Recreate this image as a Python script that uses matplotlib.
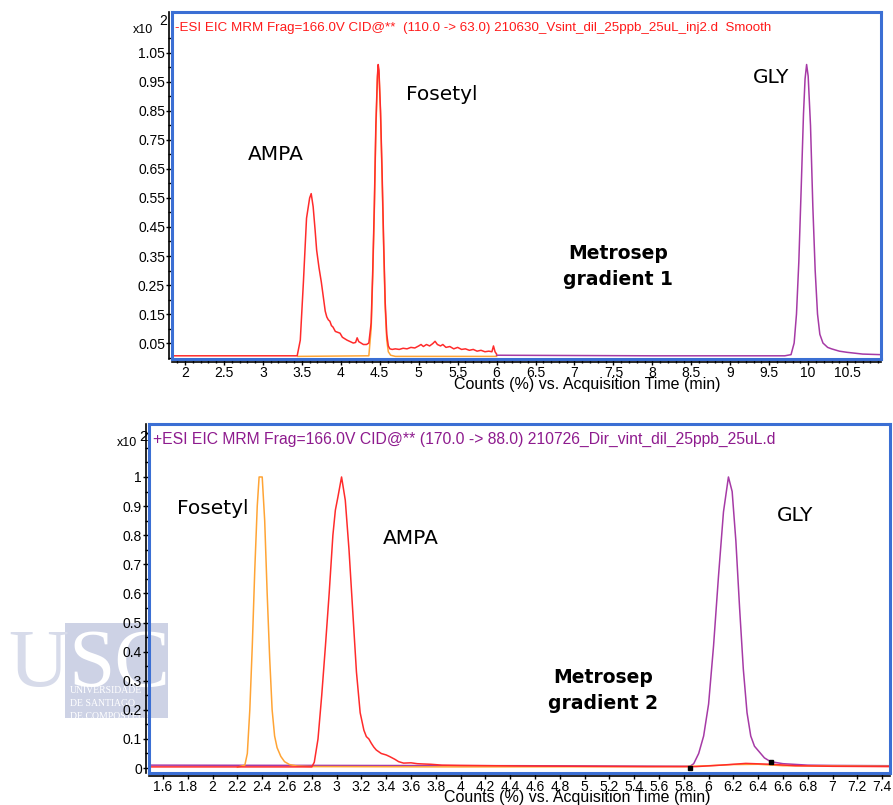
import numpy as np
import matplotlib
matplotlib.use("Agg")
import matplotlib.pyplot as plt
from matplotlib.ticker import MultipleLocator, FixedLocator, FormatStrFormatter
from matplotlib.patches import Rectangle
from matplotlib.lines import Line2D
from matplotlib.transforms import offset_copy

# ---- gradient 1 (top panel) ----
top_red_t = [1.83, 3.44, 3.48, 3.52, 3.56, 3.60, 3.62, 3.645, 3.67, 3.69, 3.72, 3.75, 3.78, 3.80,
             3.82, 3.84, 3.86, 3.88, 3.90, 3.93, 3.96, 3.99, 4.02, 4.05, 4.08, 4.12, 4.16, 4.19,
             4.21, 4.23, 4.26, 4.29, 4.33, 4.36, 4.39, 4.41, 4.43, 4.45, 4.47, 4.48, 4.49, 4.51,
             4.53, 4.55, 4.57, 4.59, 4.61, 4.63, 4.66, 4.70, 4.75, 4.80, 4.85, 4.90, 4.95, 5.00,
             5.03, 5.06, 5.10, 5.14, 5.18, 5.21, 5.24, 5.28, 5.31, 5.35, 5.40, 5.45, 5.50, 5.55,
             5.60, 5.65, 5.70, 5.75, 5.80, 5.85, 5.90, 5.94, 5.96, 5.98, 6.00]
top_red_y = [0.006, 0.006, 0.06, 0.26, 0.48, 0.55, 0.565, 0.52, 0.44, 0.37, 0.31, 0.26, 0.20, 0.16,
             0.14, 0.13, 0.125, 0.11, 0.105, 0.09, 0.087, 0.084, 0.07, 0.065, 0.06, 0.055, 0.05, 0.052,
             0.068, 0.055, 0.05, 0.045, 0.045, 0.05, 0.12, 0.30, 0.52, 0.80, 0.97, 1.01, 0.99, 0.85,
             0.64, 0.40, 0.19, 0.08, 0.04, 0.03, 0.028, 0.03, 0.028, 0.032, 0.03, 0.035, 0.033, 0.04,
             0.045, 0.038, 0.045, 0.04, 0.048, 0.056, 0.045, 0.04, 0.045, 0.035, 0.038, 0.03, 0.035, 0.028,
             0.03, 0.025, 0.028, 0.022, 0.025, 0.02, 0.022, 0.02, 0.04, 0.02, 0.012]

top_orange_t = [3.45, 4.36, 4.39, 4.41, 4.43, 4.45, 4.47, 4.48, 4.49, 4.51, 4.53, 4.55, 4.57, 4.59,
                4.61, 4.64, 4.70, 6.00]
top_orange_y = [0.004, 0.006, 0.10, 0.28, 0.50, 0.78, 0.96, 1.00, 0.98, 0.84, 0.62, 0.38, 0.17, 0.06,
                0.02, 0.008, 0.004, 0.004]

top_purple_t = [6.00, 7.00, 8.00, 9.00, 9.70, 9.78, 9.82, 9.85, 9.88, 9.91, 9.94, 9.96, 9.98, 10.00,
                10.03, 10.06, 10.09, 10.12, 10.15, 10.19, 10.25, 10.30, 10.40, 10.50, 10.70, 10.93]
top_purple_y = [0.008, 0.007, 0.006, 0.006, 0.006, 0.01, 0.05, 0.15, 0.33, 0.58, 0.84, 0.96, 1.01, 0.97,
                0.80, 0.52, 0.30, 0.15, 0.08, 0.05, 0.035, 0.03, 0.022, 0.018, 0.012, 0.01]

# ---- gradient 2 (bottom panel) ----
bot_purple_t = [1.49, 3.00, 4.50, 5.85, 5.88, 5.92, 5.96, 6.00, 6.04, 6.08, 6.12, 6.16, 6.19, 6.22,
                6.25, 6.28, 6.31, 6.34, 6.37, 6.41, 6.45, 6.50, 6.60, 6.80, 7.00, 7.46]
bot_purple_y = [0.01, 0.009, 0.008, 0.006, 0.015, 0.05, 0.11, 0.22, 0.42, 0.66, 0.88, 1.0, 0.95, 0.78,
                0.55, 0.34, 0.19, 0.11, 0.075, 0.055, 0.035, 0.022, 0.015, 0.01, 0.009, 0.008]

bot_orange_t = [2.20, 2.26, 2.28, 2.30, 2.32, 2.34, 2.36, 2.375, 2.40, 2.42, 2.44, 2.46, 2.48, 2.50,
                2.52, 2.55, 2.58, 2.62, 2.68, 2.80, 4.00, 5.80, 6.00, 6.20, 6.40, 6.60, 7.46]
bot_orange_y = [0.003, 0.01, 0.05, 0.20, 0.42, 0.68, 0.90, 1.0, 1.0, 0.85, 0.60, 0.38, 0.20, 0.11,
                0.07, 0.04, 0.022, 0.012, 0.007, 0.005, 0.004, 0.005, 0.008, 0.012, 0.013, 0.008, 0.006]

bot_red_t = [1.49, 2.80, 2.82, 2.85, 2.88, 2.91, 2.94, 2.97, 2.99, 3.01, 3.04, 3.07, 3.10, 3.13, 3.16,
             3.19, 3.22, 3.24, 3.26, 3.28, 3.30, 3.32, 3.36, 3.40, 3.43, 3.47, 3.50, 3.54, 3.60, 3.65,
             3.70, 3.76, 3.85, 4.00, 4.50, 5.00, 5.50, 5.90, 6.10, 6.30, 6.50, 6.70, 7.00, 7.46]
bot_red_y = [0.004, 0.004, 0.02, 0.10, 0.25, 0.42, 0.60, 0.80, 0.886, 0.93, 1.0, 0.92, 0.75, 0.54, 0.33,
             0.19, 0.13, 0.108, 0.10, 0.085, 0.072, 0.062, 0.05, 0.045, 0.039, 0.03, 0.022, 0.017, 0.018, 0.015,
             0.014, 0.013, 0.01, 0.009, 0.007, 0.006, 0.005, 0.005, 0.01, 0.016, 0.013, 0.008, 0.006, 0.005]

bot_marker_t = [5.85, 6.50]
bot_marker_y = [0.0, 0.022]

top_xticks = [2, 2.5, 3, 3.5, 4, 4.5, 5, 5.5, 6, 6.5, 7, 7.5, 8, 8.5, 9, 9.5, 10, 10.5]
top_yticks = [0.05, 0.15, 0.25, 0.35, 0.45, 0.55, 0.65, 0.75, 0.85, 0.95, 1.05]
bot_xticks = [1.6, 1.8, 2, 2.2, 2.4, 2.6, 2.8, 3, 3.2, 3.4, 3.6, 3.8, 4, 4.2, 4.4, 4.6, 4.8, 5,
              5.2, 5.4, 5.6, 5.8, 6, 6.2, 6.4, 6.6, 6.8, 7, 7.2, 7.4]
bot_yticks = [0, 0.1, 0.2, 0.3, 0.4, 0.5, 0.6, 0.7, 0.8, 0.9, 1]

RED = "#ff2b2b"
ORANGE = "#ffa435"
PURPLE = "#a63aa6"
FRAME = "#3b6fd4"
W, H = 893, 805

fig = plt.figure(figsize=(W / 100, H / 100), dpi=100)

# background layer in pixel coordinates (watermark + free texts)
bg = fig.add_axes([0, 0, 1, 1], zorder=-1)
bg.set_xlim(0, W)
bg.set_ylim(H, 0)
bg.axis("off")

bg.add_patch(Rectangle((65, 623), 103, 95, color="#cdd2e5", lw=0))
bg.text(8, 686, "U", fontsize=60, family="Liberation Serif", color="#d7dbea", va="baseline")
bg.text(68, 686, "SC", fontsize=60, family="Liberation Serif", color="white", va="baseline")
for yy, s in zip([690, 703, 716], ["UNIVERSIDADE", "DE SANTIAGO", "DE COMPOSTELA"]):
    bg.text(70, yy, s, fontsize=7, family="Liberation Serif", color="white", va="center")

bg.text(175, 28, "-ESI EIC MRM Frag=166.0V CID@**  (110.0 -> 63.0) 210630_Vsint_dil_25ppb_25uL_inj2.d  Smooth",
        fontsize=9.6, family="Liberation Sans", color="#ff1a1a", va="center")
bg.text(153, 439, "+ESI EIC MRM Frag=166.0V CID@** (170.0 -> 88.0) 210726_Dir_vint_dil_25ppb_25uL.d",
        fontsize=11.3, family="Liberation Sans", color="#8e1b8e", va="center")
bg.text(133, 30, "x10", fontsize=9, family="Liberation Sans", va="center")
bg.text(159, 21, "2", fontsize=10, family="Liberation Sans", va="center")
bg.text(117, 443, "x10", fontsize=9, family="Liberation Sans", va="center")
bg.text(139, 437, "2", fontsize=11, family="Liberation Sans", va="center")
bg.text(587, 384, "Counts (%) vs. Acquisition Time (min)", fontsize=11.5, family="Liberation Sans",
        ha="center", va="center")
bg.text(577, 797, "Counts (%) vs. Acquisition Time (min)", fontsize=11.5, family="Liberation Sans",
        ha="center", va="center")


def style_axes(ax):
    ax.set_facecolor("none")
    for sp in ax.spines.values():
        sp.set_color(FRAME)
        sp.set_linewidth(2.2)
    ax.tick_params(which="both", direction="out", color="black", width=1,
                   labelfontfamily="Liberation Sans", labelsize=10, pad=1)
    ax.tick_params(which="major", length=4)
    ax.tick_params(which="minor", length=3)
    # thin black axis lines just outside the blue frame
    tb = offset_copy(ax.transAxes, fig=fig, x=0, y=-3, units="dots")
    tl = offset_copy(ax.transAxes, fig=fig, x=-3, y=0, units="dots")
    ax.add_line(Line2D([0, 1], [0, 0], transform=tb, color="black", lw=1.2, clip_on=False))
    ax.add_line(Line2D([0, 0], [0, 1], transform=tl, color="black", lw=1.2, clip_on=False))


# ---- top panel ----
ax1 = fig.add_axes([172 / W, 1 - 359 / H, (881 - 172) / W, (359 - 12) / H])
ax1.plot(top_orange_t, top_orange_y, color=ORANGE, lw=1.1)
ax1.plot(top_purple_t, top_purple_y, color=PURPLE, lw=1.1)
ax1.plot(top_red_t, top_red_y, color=RED, lw=1.1)
ax1.set_xlim(1.833, 10.935)
ax1.set_ylim(-0.005, 1.191)
ax1.xaxis.set_major_locator(FixedLocator(top_xticks))
ax1.xaxis.set_major_formatter(FormatStrFormatter("%g"))
ax1.xaxis.set_minor_locator(MultipleLocator(0.1))
ax1.yaxis.set_major_locator(FixedLocator(top_yticks))
ax1.yaxis.set_major_formatter(FormatStrFormatter("%.2f"))
ax1.yaxis.set_minor_locator(MultipleLocator(0.1))
style_axes(ax1)

ax1.text(3.16, 0.70, "AMPA", fontsize=14.5, ha="center", va="center")
ax1.text(5.30, 0.905, "Fosetyl", fontsize=14.5, ha="center", va="center")
ax1.text(9.52, 0.964, "GLY", fontsize=14.5, ha="center", va="center")
ax1.text(7.56, 0.315, "Metrosep\ngradient 1", fontsize=13.5, fontweight="bold",
         ha="center", va="center", linespacing=1.45)

# ---- bottom panel ----
ax2 = fig.add_axes([149 / W, 1 - 773 / H, (890 - 149) / W, (773 - 424) / H])
ax2.plot(bot_purple_t, bot_purple_y, color=PURPLE, lw=1.1)
ax2.plot(bot_orange_t, bot_orange_y, color=ORANGE, lw=1.1)
ax2.plot(bot_red_t, bot_red_y, color=RED, lw=1.1)
ax2.plot(bot_marker_t, bot_marker_y, ls="none", marker="s", ms=3.5, color="black")
ax2.set_xlim(1.487, 7.463)
ax2.set_ylim(-0.017, 1.182)
ax2.xaxis.set_major_locator(FixedLocator(bot_xticks))
ax2.xaxis.set_major_formatter(FormatStrFormatter("%g"))
ax2.yaxis.set_major_locator(FixedLocator(bot_yticks))
ax2.yaxis.set_major_formatter(FormatStrFormatter("%g"))
ax2.yaxis.set_minor_locator(MultipleLocator(0.05))
style_axes(ax2)

ax2.text(2.0, 0.893, "Fosetyl", fontsize=14.5, ha="center", va="center")
ax2.text(3.6, 0.79, "AMPA", fontsize=14.5, ha="center", va="center")
ax2.text(6.70, 0.869, "GLY", fontsize=14.5, ha="center", va="center")
ax2.text(5.15, 0.267, "Metrosep\ngradient 2", fontsize=13.5, fontweight="bold",
         ha="center", va="center", linespacing=1.45)

fig.savefig("out.png", dpi=100)
